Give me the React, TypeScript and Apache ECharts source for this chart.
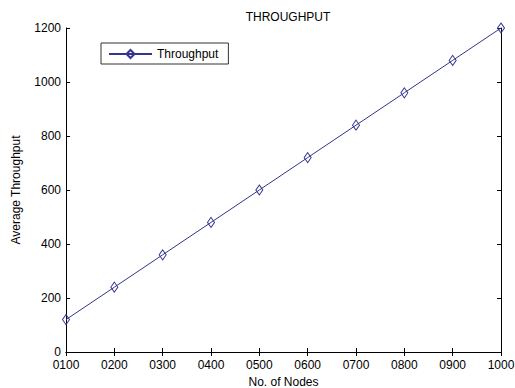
import React, { useEffect, useRef } from "react";
import * as echarts from "echarts";

const nodes = [100, 200, 300, 400, 500, 600, 700, 800, 900, 1000];
const throughput = [120, 240, 360, 480, 600, 720, 840, 960, 1080, 1200];
const seriesName = "Throughput";
const titleText = "THROUGHPUT";
const xName = "No. of Nodes";
const yName = "Average Throughput";

const FONT = "'Liberation Sans', Arial, sans-serif";
const LINE = "#34348f";

export default function App() {
  const ref = useRef<HTMLDivElement>(null);
  useEffect(() => {
    if (!ref.current) return;
    const chart = echarts.init(ref.current, undefined, { renderer: "svg" });
    const axisLine = { show: true, lineStyle: { color: "#000", width: 1 } };
    const axisTick = { show: true, inside: true, length: 4, lineStyle: { color: "#000" } };
    chart.setOption({
      animation: false,
      backgroundColor: "#fff",
      title: {
        text: titleText,
        left: 283,
        textAlign: "center",
        top: 6,
        textStyle: { fontFamily: FONT, fontSize: 12, fontWeight: "normal", color: "#000" },
      },
      legend: {
        data: [seriesName],
        left: 101,
        top: 43,
        orient: "vertical",
        borderColor: "#333",
        borderWidth: 1,
        padding: [5, 10, 4, 7],
        itemWidth: 43,
        itemHeight: 10,
        textStyle: { fontFamily: FONT, fontSize: 12, color: "#000" },
      },
      grid: {
        left: 66,
        right: 14,
        top: 28,
        bottom: 36,
        containLabel: false,
        outerBoundsMode: "none",
      },
      xAxis: [
        {
          type: "value",
          min: 100,
          max: 1000,
          interval: 100,
          name: xName,
          nameLocation: "middle",
          nameGap: 22,
          nameTextStyle: { fontFamily: FONT, fontSize: 12, color: "#000" },
          axisLine,
          axisTick,
          splitLine: { show: false },
          axisLabel: {
            fontFamily: FONT,
            fontSize: 12,
            color: "#000",
            margin: 7,
            formatter: (v: number) => String(v).padStart(4, "0"),
          },
        },
        {
          type: "value",
          position: "top",
          min: 100,
          max: 1000,
          interval: 100,
          axisLine,
          axisTick,
          splitLine: { show: false },
          axisLabel: { show: false },
        },
      ],
      yAxis: [
        {
          type: "value",
          min: 0,
          max: 1200,
          interval: 200,
          name: yName,
          nameLocation: "middle",
          nameGap: 44,
          nameTextStyle: { fontFamily: FONT, fontSize: 12, color: "#000" },
          axisLine,
          axisTick,
          splitLine: { show: false },
          axisLabel: {
            fontFamily: FONT,
            fontSize: 12,
            color: "#000",
            margin: 5,
            formatter: (v: number) => String(v),
          },
        },
        {
          type: "value",
          position: "right",
          min: 0,
          max: 1200,
          interval: 200,
          axisLine,
          axisTick,
          splitLine: { show: false },
          axisLabel: { show: false },
        },
      ],
      series: [
        {
          name: seriesName,
          type: "line",
          data: nodes.map((n, i) => [n, throughput[i]]),
          symbol: "diamond",
          symbolSize: [7, 10],
          showAllSymbol: true,
          lineStyle: { color: LINE, width: 1 },
          itemStyle: { color: "rgba(255,255,255,0)", borderColor: LINE, borderWidth: 1 },
          clip: false,
        },
      ],
    });
    return () => chart.dispose();
  }, []);
  return (
    <div
      ref={ref}
      style={{ position: "fixed", left: 0, top: 0, width: 515, height: 388 }}
    />
  );
}
